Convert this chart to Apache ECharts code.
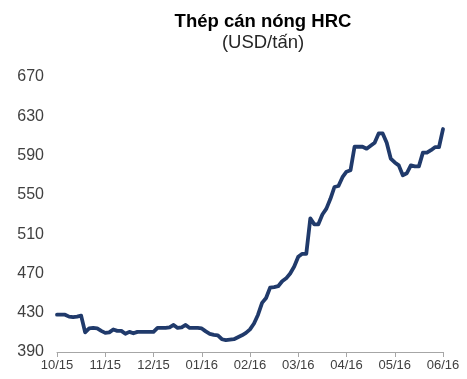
<!DOCTYPE html>
<html>
<head>
<meta charset="utf-8">
<script src="https://cdn.jsdelivr.net/npm/echarts@6/dist/echarts.min.js"></script>
<style>
  html, body { margin: 0; padding: 0; background: #ffffff; }
  #chart { width: 467px; height: 379px; }
</style>
</head>
<body>
<div id="chart"></div>
<script>
// Month labels on the time axis; each month is split into equal sampling slots
const monthLabels = ["10/15", "11/15", "12/15", "01/16", "02/16", "03/16", "04/16", "05/16", "06/16"];
const slotsPerMonth = 12;

// HRC hot-rolled coil price, USD per tonne
const hrcPrice = [
  428, 428, 428, 426, 425.5, 426, 427, 410, 414, 414.5, 414, 411.5,
  409.5, 410, 413, 411.5, 411.5, 408.5, 410.5, 409, 410.5, 410.5, 410.5, 410.5,
  410.5, 414.5, 414.5, 414.5, 415, 417.5, 414.5, 415, 417.5, 414.5, 414.5, 414.5,
  414, 411, 408.5, 407.5, 407, 403, 402, 402.5, 403, 405, 407, 409.5,
  413, 419, 428, 440, 445, 455.5, 456, 457, 462, 465, 470, 477,
  487, 490, 490, 526, 520, 520, 530, 536, 546, 558, 559, 568,
  573.6, 575, 599, 599, 599, 597, 600, 603, 612.5, 612.5, 603, 587,
  583, 580, 570, 572, 580, 579, 579, 593, 593, 595.5, 598.5, 598.5,
  617
];

// Y-axis scale
const yMin = 390, yMax = 670, yStep = 40;

// One category per sample; only the first slot of each month is labelled
const categories = hrcPrice.map((_, i) => {
  const m = Math.floor(i / slotsPerMonth);
  return monthLabels[m] + "#" + (i % slotsPerMonth);
});

const chart = echarts.init(document.getElementById("chart"), null, { renderer: "canvas" });
chart.setOption({
  animation: false,
  backgroundColor: "#ffffff",
  title: {
    text: "Thép cán nóng HRC",
    subtext: "(USD/tấn)",
    left: 258,
    textAlign: "center",
    top: 7,
    itemGap: 2,
    textStyle: { fontFamily: "Liberation Sans, Arial, sans-serif", fontSize: 18.5, fontWeight: "bold", color: "#000000" },
    subtextStyle: { fontFamily: "Liberation Sans, Arial, sans-serif", fontSize: 18.5, color: "#262626" }
  },
  grid: { left: 57, right: 24, top: 77, bottom: 27, containLabel: false },
  xAxis: {
    type: "category",
    data: categories,
    boundaryGap: false,
    axisLine: { lineStyle: { color: "#a6a6a6", width: 1 } },
    axisTick: { show: true, interval: slotsPerMonth - 1, length: 5, lineStyle: { color: "#a6a6a6" } },
    axisLabel: {
      interval: slotsPerMonth - 1,
      margin: 7,
      color: "#404040",
      fontFamily: "Liberation Sans, Arial, sans-serif",
      fontSize: 13,
      formatter: v => v.split("#")[0]
    },
    splitLine: { show: false }
  },
  yAxis: {
    type: "value",
    min: yMin,
    max: yMax,
    interval: yStep,
    axisLine: { show: false },
    axisTick: { show: false },
    splitLine: { show: false },
    axisLabel: {
      margin: 13,
      color: "#404040",
      fontFamily: "Liberation Sans, Arial, sans-serif",
      fontSize: 16
    }
  },
  series: [{
    type: "line",
    data: hrcPrice,
    showSymbol: false,
    smooth: false,
    lineStyle: { color: "#203a6b", width: 3.8, cap: "round", join: "round" }
  }]
});
</script>
</body>
</html>
